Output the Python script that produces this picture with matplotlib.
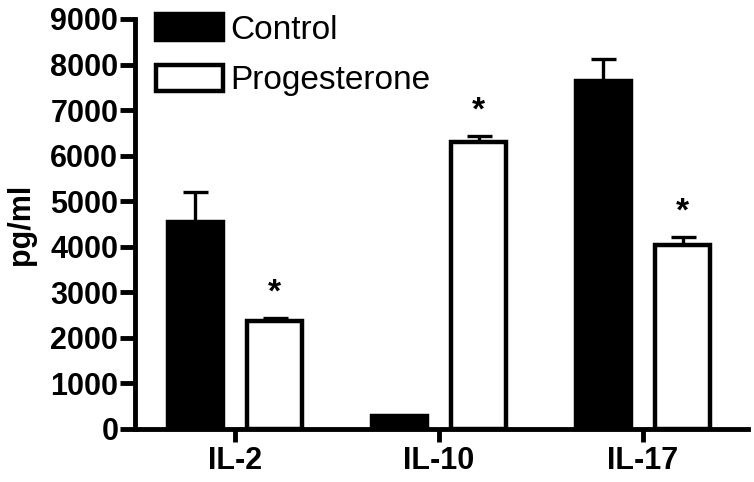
import matplotlib
matplotlib.use('Agg')
from matplotlib import pyplot as plt
import numpy as np

matplotlib.rcParams.update({
    'font.family': ['Liberation Sans', 'DejaVu Sans'],
})

# Data
cytokines = ['IL-2', 'IL-10', 'IL-17']
control = [4550, 290, 7650]
control_err = [650, 0, 480]
progesterone = [2360, 6300, 4050]
progesterone_err = [80, 130, 160]
significant = [True, True, True]

fig = plt.figure(figsize=(7.54, 4.82), dpi=100)
ax = fig.add_axes([135/754, 1-429/482, (748-135)/754, (429-19)/482])

x = np.arange(len(cytokines))
w = 0.27
off = 0.195
lw = 3.2

ax.bar(x-off, control, w, color='black', edgecolor='black', linewidth=lw, label='Control', zorder=2)
ax.bar(x+off, progesterone, w, color='white', edgecolor='black', linewidth=lw, label='Progesterone', zorder=2)

# upward-only error bars
ax.errorbar(x-off, control, yerr=[np.zeros(3), control_err], fmt='none', ecolor='black',
            elinewidth=2.4, capsize=9, capthick=2.4, zorder=1)
ax.errorbar(x+off, progesterone, yerr=[np.zeros(3), progesterone_err], fmt='none', ecolor='black',
            elinewidth=2.4, capsize=9, capthick=2.4, zorder=1)

for i, sig in enumerate(significant):
    if sig:
        ax.annotate('*', (x[i]+off, progesterone[i]+progesterone_err[i]), xytext=(0, 7),
                    textcoords='offset points', ha='center', va='bottom',
                    fontsize=24, fontweight='bold')

ax.set_xlim(-0.49, 2.515)
ax.set_ylim(0, 9000)
ax.set_yticks(np.arange(0, 9001, 1000))
ax.set_xticks(x)
ax.set_xticklabels(cytokines)
ax.set_ylabel('pg/ml', fontsize=22, fontweight='bold', labelpad=10)

for s in ['top', 'right']:
    ax.spines[s].set_visible(False)
for s in ['left', 'bottom']:
    ax.spines[s].set_linewidth(3.5)
ax.tick_params(axis='y', direction='out', length=11, width=3.5, pad=1, labelsize=22)
ax.tick_params(axis='x', direction='out', length=9, width=3.5, pad=3, labelsize=22)
for lab in ax.get_xticklabels() + ax.get_yticklabels():
    lab.set_fontweight('bold')

leg = ax.legend(loc='upper left', bbox_to_anchor=(156/754, 1-14/482), bbox_transform=fig.transFigure,
                frameon=False, fontsize=24, handlelength=2.0, handleheight=0.82,
                handletextpad=0.22, labelspacing=0.58, borderpad=0, borderaxespad=0)

fig.savefig('out.png', dpi=100)
